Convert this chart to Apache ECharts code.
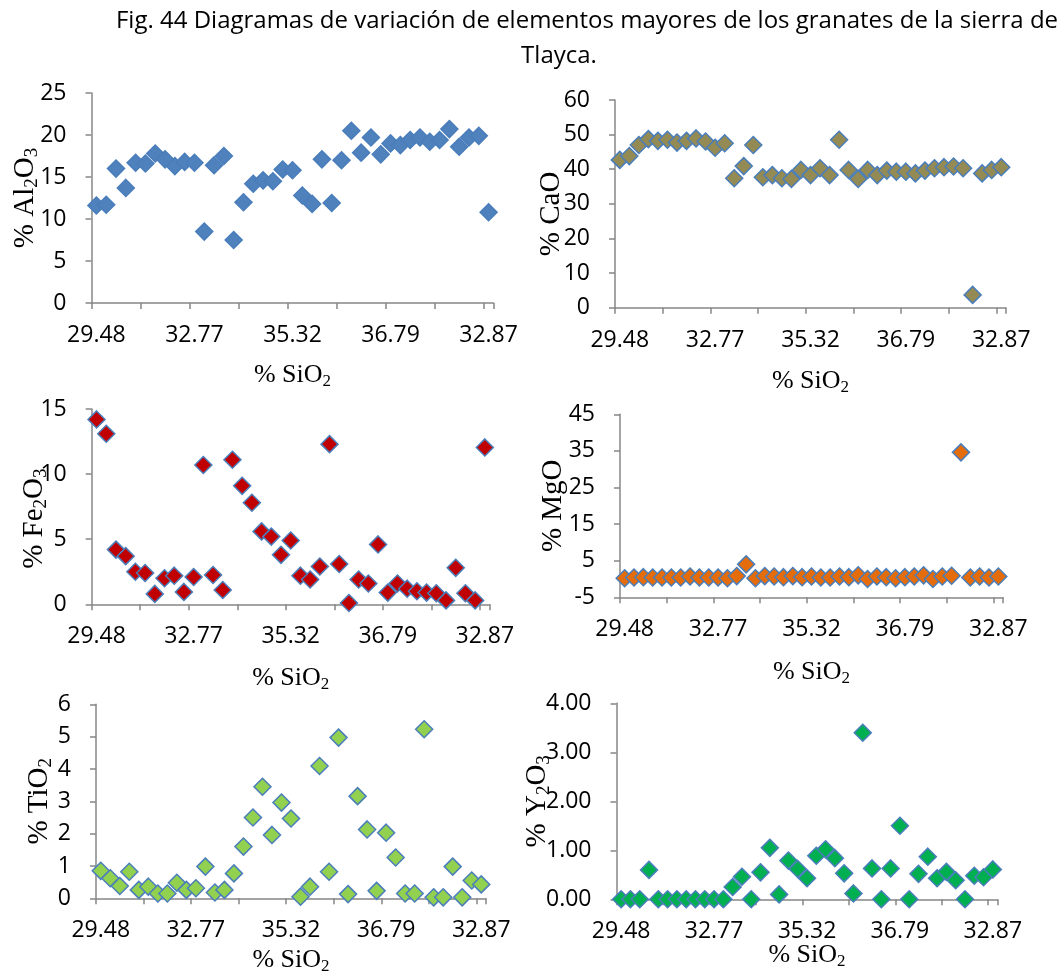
<!DOCTYPE html>
<html><head><meta charset="utf-8">
<script src="https://cdn.jsdelivr.net/npm/echarts@6/dist/echarts.min.js"></script>
<style>html,body{margin:0;padding:0;background:#fff}#c{width:1063px;height:975px}</style>
</head><body><div id="c"></div>
<script>
// ---- data ----
const titleLines = ['Fig. 44 Diagramas de variación de elementos mayores de los granates de la sierra de', 'Tlayca.'];
// % SiO2 category labels (only every 10th sample is labelled in the original)
const categories = [
  '29.48','','','','','','','','','',
  '32.77','','','','','','','','','',
  '35.32','','','','','','','','','',
  '36.79','','','','','','','','','',
  '32.87'
];
const al2o3 = [11.6,11.7,16.0,13.7,16.7,16.6,17.8,17.1,16.3,16.8,16.7,8.5,16.4,17.5,7.5,12.0,14.2,14.6,14.5,15.9,15.8,12.8,11.8,17.1,11.9,17.0,20.5,17.9,19.7,17.7,19.0,18.8,19.4,19.7,19.2,19.4,20.7,18.6,19.7,19.9,10.8];
const cao = [42.7,43.8,47.0,48.7,48.2,48.5,47.7,48.2,48.9,48.0,46.2,47.5,37.4,40.9,47.0,37.7,38.3,37.4,37.2,39.8,38.3,40.3,38.3,48.5,39.8,37.2,39.8,38.3,39.6,39.3,39.3,38.8,39.6,40.3,40.6,40.8,40.3,3.7,38.8,39.8,40.6];
const fe2o3 = [14.2,13.1,4.2,3.7,2.5,2.4,0.8,2.0,2.2,0.95,2.1,10.7,2.25,1.1,11.1,9.1,7.8,5.6,5.2,3.8,4.9,2.2,1.9,2.9,12.3,3.1,0.1,1.9,1.6,4.6,0.9,1.6,1.2,1.0,0.9,0.85,0.3,2.8,0.85,0.3,12.05];
const mgo = [0.2,0.4,0.5,0.4,0.4,0.4,0.4,0.7,0.4,0.4,0.4,0.2,0.8,4.0,0.2,0.8,0.7,0.5,0.8,0.5,0.7,0.4,0.4,0.7,0.5,1.0,0.0,0.7,0.5,0.2,0.5,0.7,1.0,0.0,0.7,0.9,34.6,0.4,0.7,0.4,0.7];
const tio2 = [0.85,0.62,0.38,0.82,0.26,0.36,0.15,0.15,0.48,0.26,0.31,0.98,0.18,0.26,0.77,1.6,2.5,3.45,1.96,2.96,2.47,0.05,0.36,4.09,0.82,4.97,0.13,3.16,2.13,0.23,2.03,1.26,0.15,0.15,5.23,0.03,0.03,0.98,0.03,0.55,0.43];
const y2o3 = [0,0,0,0.6,0,0,0,0,0,0,0,0,0.25,0.46,0,0.55,1.05,0.1,0.79,0.62,0.43,0.89,1.02,0.84,0.53,0.12,3.4,0.63,0,0.63,1.5,0,0.52,0.87,0.43,0.56,0.39,0,0.48,0.45,0.61];
// y-axis ranges [min, max, interval]
const al2o3Range = [0, 25, 5];
const caoRange = [0, 60, 10];
const fe2o3Range = [0, 15, 5];
const mgoRange = [-5, 45, 10];
const tio2Range = [0, 6, 1];
const y2o3Range = [0, 4, 1];

// ---- layout / styles ----
const axisGray = '#878787';
const border = '#4A7EBB';
const panels = [
  {data: al2o3, range: al2o3Range, name: '{t|% Al}{s|2}{t|O}{s|3}', fill: '#4F81BD',
   grid: {left: 91.5, top: 93, width: 402, height: 210}, yGap: 50, xGap: 57, yShift: 0},
  {data: cao, range: caoRange, name: '{t|% CaO}', fill: '#948A54',
   grid: {left: 615, top: 100, width: 391, height: 207.7}, yGap: 49, xGap: 58, yShift: 10},
  {data: fe2o3, range: fe2o3Range, name: '{t|% Fe}{s|2}{t|O}{s|3}', fill: '#C00000',
   grid: {left: 91.7, top: 409, width: 398, height: 195.3}, yGap: 41, xGap: 59, yShift: 12},
  {data: mgo, range: mgoRange, name: '{t|% MgO}', fill: '#E46C0A',
   grid: {left: 620, top: 414.3, width: 383, height: 183}, yGap: 52, xGap: 60, yShift: 0},
  {data: tio2, range: tio2Range, name: '{t|% TiO}{s|2}', fill: '#92D050',
   grid: {left: 96, top: 704.3, width: 390, height: 194}, yGap: 40, xGap: 47, yShift: 0},
  {data: y2o3, range: y2o3Range, name: '{t|% Y}{s|2}{t|O}{s|3}', fill: '#00B050', dec: 2,
   grid: {left: 616.5, top: 703.3, width: 381, height: 196}, yGap: 63, xGap: 41, yShift: 0}
];

const serif = 'Liberation Serif';
const sans = 'Open Sans';
const nameRich = (fs, sfs, pad) => ({
  t: {fontFamily: serif, fontSize: fs, color: '#000'},
  s: {fontFamily: serif, fontSize: sfs, color: '#000', padding: [pad, 0, 0, 0]}
});

const option = {
  animation: false,
  backgroundColor: '#fff',
  graphic: [
    {type: 'text', x: 587, y: 21, style: {text: titleLines[0], fontFamily: sans, fontSize: 24, fill: '#000', align: 'center', verticalAlign: 'middle'}},
    {type: 'text', x: 559, y: 56, style: {text: titleLines[1], fontFamily: sans, fontSize: 24, fill: '#000', align: 'center', verticalAlign: 'middle'}}
  ],
  grid: panels.map(p => Object.assign({outerBoundsMode: 'none', containLabel: false}, p.grid)),
  xAxis: panels.map((p, i) => ({
    type: 'category', gridIndex: i, data: categories, boundaryGap: true,
    name: '{t|% SiO}{s|2}', nameLocation: 'middle', nameGap: p.xGap, nameMoveOverlap: false,
    nameTextStyle: {rich: nameRich(26, 17, 13)},
    axisLine: {onZero: false, lineStyle: {color: axisGray, width: 1.5}},
    axisTick: {show: true, interval: 4, length: 6, lineStyle: {color: axisGray, width: 1.5}},
    axisLabel: {interval: 9, margin: 21, fontFamily: sans, fontSize: 23, color: '#000'},
    splitLine: {show: false}
  })),
  yAxis: panels.map((p, i) => ({
    type: 'value', gridIndex: i, min: p.range[0], max: p.range[1], interval: p.range[2],
    name: p.name, nameLocation: 'middle', nameGap: p.yGap, nameMoveOverlap: false,
    nameTextStyle: {rich: nameRich(29, 19, 14), padding: [0, 2 * p.yShift, 0, 0]},
    axisLine: {show: true, onZero: false, lineStyle: {color: axisGray, width: 1.5}},
    axisTick: {show: true, length: 6, lineStyle: {color: axisGray, width: 1.5}},
    axisLabel: {margin: 25, fontFamily: sans, fontSize: 23, color: '#000',
      formatter: v => p.dec ? v.toFixed(p.dec) : String(v)},
    splitLine: {show: false}
  })),
  series: panels.map((p, i) => ({
    type: 'scatter', xAxisIndex: i, yAxisIndex: i, data: p.data,
    symbol: 'diamond', symbolSize: 17,
    itemStyle: {color: p.fill, borderColor: border, borderWidth: 1.5, opacity: 1}
  }))
};
const chart = echarts.init(document.getElementById('c'), null, {renderer: 'canvas'});
chart.setOption(option);
</script>
</body></html>
